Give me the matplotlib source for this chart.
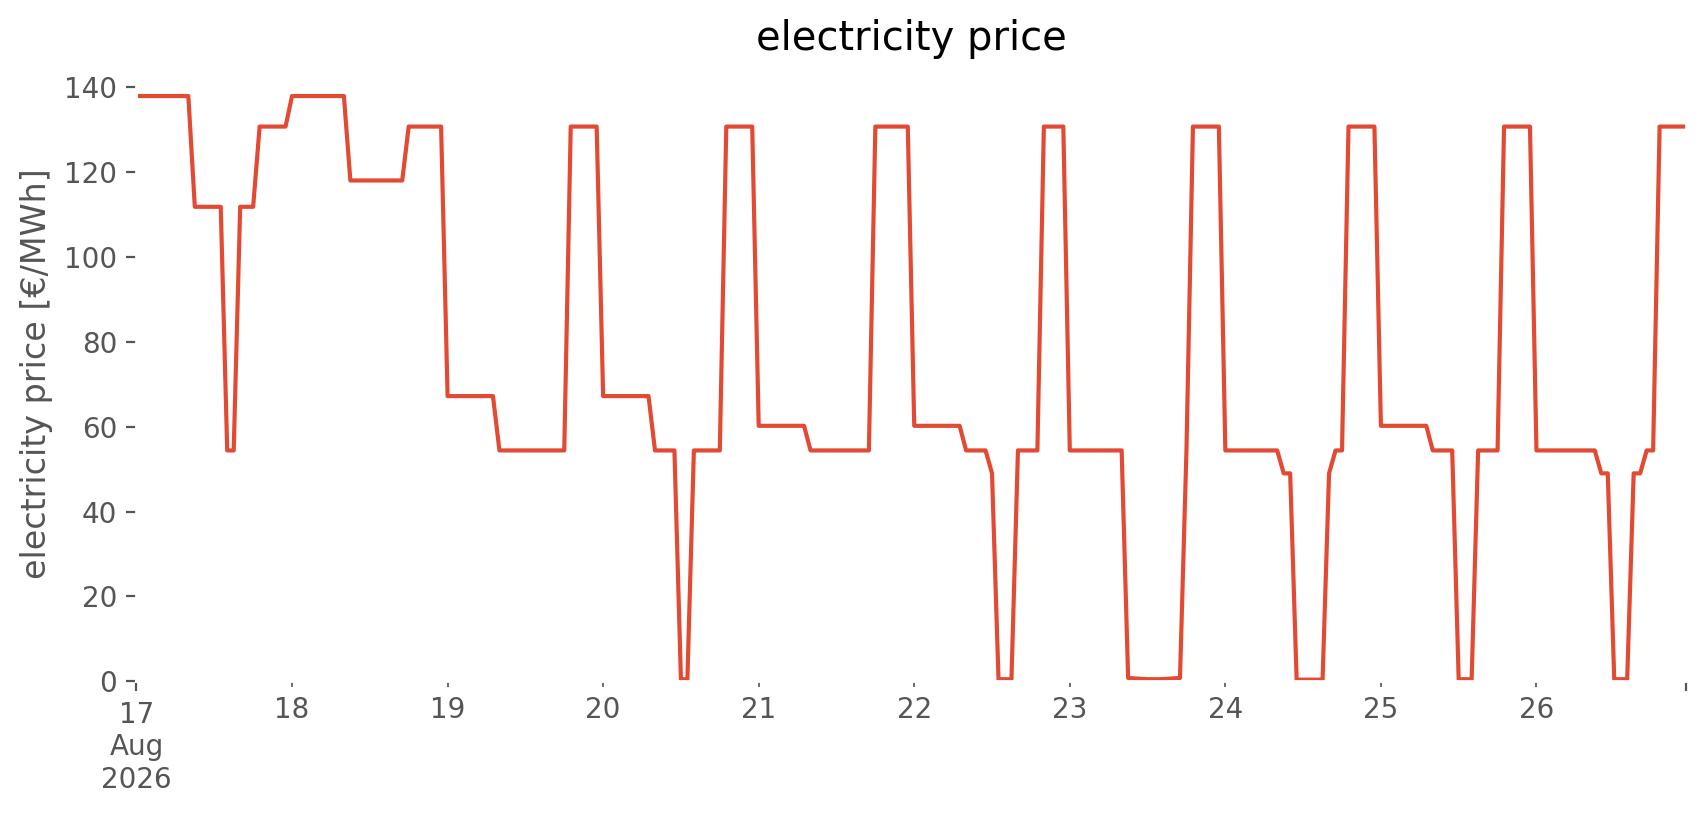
import pandas as pd
import matplotlib.pyplot as plt

plt.style.use("ggplot")
plt.rcParams["axes.facecolor"] = "white"

# hourly price per day, 17-26 Aug 2026
day17 = [137.9] * 9 + [111.8] * 5 + [54.4] * 2 + [111.8] * 3 + [130.7] * 5
day18 = [137.9] * 9 + [118.0] * 9 + [130.7] * 6
day19 = [67.2] * 8 + [54.4] * 11 + [130.7] * 5
day20 = [67.2] * 8 + [54.4] * 4 + [0.5] * 2 + [54.4] * 5 + [130.7] * 5
day21 = [60.2] * 8 + [54.4] * 10 + [130.7] * 6
day22 = [60.2] * 8 + [54.4] * 4 + [49.0] + [0.5] * 3 + [54.4] * 4 + [130.7] * 4
day23 = ([54.4] * 9 + [0.8, 0.7, 0.6, 0.5, 0.5, 0.5, 0.6, 0.7, 0.8]
         + [54.4] + [130.7] * 5)
day24 = ([54.4] * 9 + [49.0] * 2 + [0.4] * 5 + [49.0] + [54.4] * 2
         + [130.7] * 5)
day25 = [60.2] * 8 + [54.4] * 4 + [0.5] * 3 + [54.4] * 4 + [130.7] * 5
day26 = ([54.4] * 10 + [49.0] * 2 + [0.5] * 3 + [49.0] * 2 + [54.4] * 2
         + [130.7] * 5)

prices = (day17 + day18 + day19 + day20 + day21 + day22 + day23 + day24
          + day25 + day26)
index = pd.date_range("2026-08-17 00:00", periods=len(prices), freq="h")
price = pd.Series(prices, index=index)

fig, ax = plt.subplots(figsize=(8.53, 4.075), dpi=200)
price.plot(ax=ax, color="#E24A33", linewidth=1.5)
ax.set_title("electricity price")
ax.set_ylabel("electricity price [€/MWh]")
ax.set_xlabel("")
ax.set_ylim(bottom=0)
ax.grid(False)
fig.subplots_adjust(left=0.08, right=0.988, bottom=0.164, top=0.918)
fig.savefig("out.png", dpi=200)
